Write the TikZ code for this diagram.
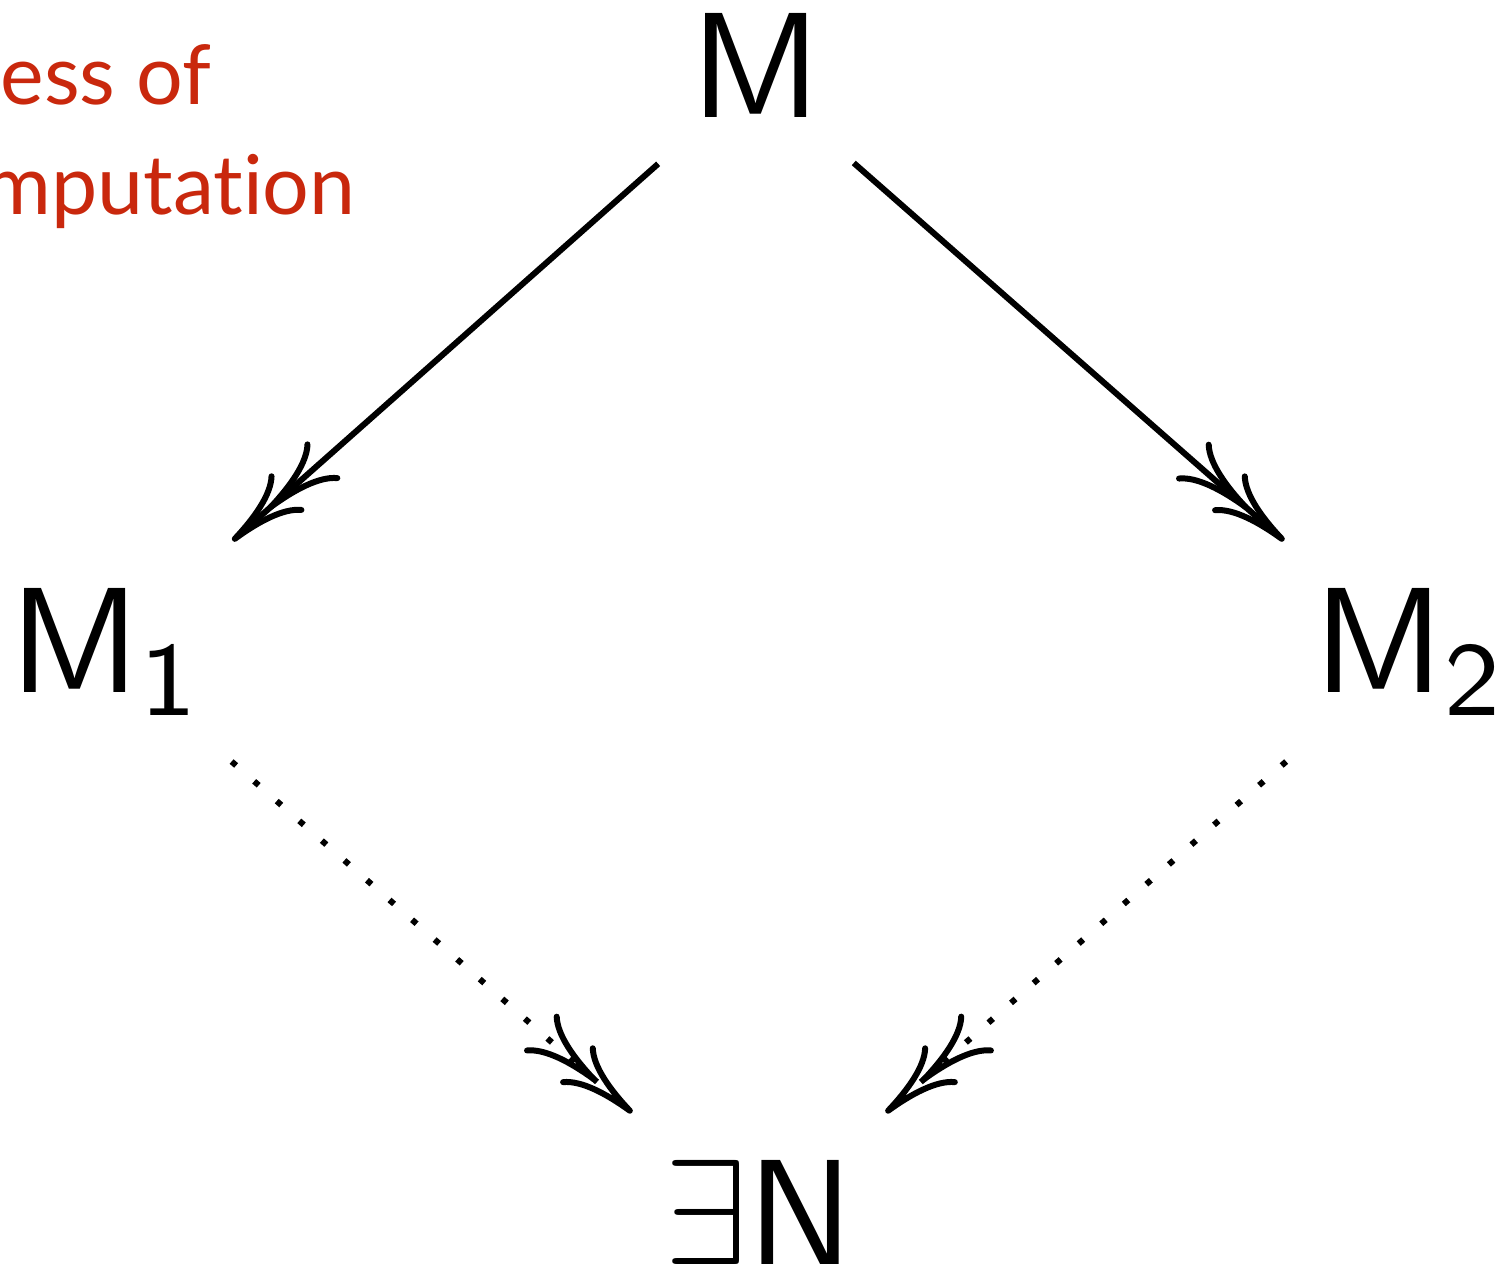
\documentclass[tikz,border=0pt]{standalone}
\usepackage{amsmath}
\usepackage{fontspec}
\usepackage{tikz}
\usetikzlibrary{arrows.meta}
\newfontfamily\notefont[Ligatures=NoCommon]{Lato}
\definecolor{noteRed}{HTML}{C9280D}

\begin{document}
\begin{tikzpicture}[
    obj/.style={anchor=base, text depth=1.5pt, font=\fontsize{10}{12}\selectfont},
    note/.style={anchor=base east, inner sep=0pt, text=noteRed, font=\notefont\fontsize{5.5}{7.3}\selectfont},
    reduce/.style={-{Computer Modern Rightarrow[length=5pt,width=3.4pt,sep=-1.8pt] Computer Modern Rightarrow[length=5pt,width=3.4pt]}, line width=0.4pt, shorten >=-0.5pt},
    confl/.style={reduce, dash pattern=on 0.4pt off 1.6pt},
]
    \path[use as bounding box, clip] (0,0) rectangle (100.67pt,-84.53pt);

    % Caption (cut off at the left)
    \node[note] (capA) at (14.3pt,-7pt) {ess of};
    \node[note] (capB) at (23.9pt,-14.33pt) {mputation};

    % Terms
    \node[obj] (m) at (50.4pt,-7.87pt) {$\mathsf{M}$};
    \node[obj] (m1) at (7.13pt,-46.2pt) {$\mathsf{M}_{\mathsf{1}}$};
    \node[obj] (m2) at (94.05pt,-46.2pt) {$\mathsf{M}_{\mathsf{2}}$};
    \node[obj] (n) at (50.6pt,-84.33pt) {$\exists\mathsf{N}$};

    % Arrows
    \draw[reduce, shorten <=-1.85pt] (m) -- (m1);
    \draw[reduce, shorten <=-1.85pt] (m) -- (m2);
    \draw[confl, shorten <=-0.7pt] (m1) -- (n);
    \draw[confl, shorten <=-0.7pt] (m2) -- (n);
\end{tikzpicture}
\end{document}
